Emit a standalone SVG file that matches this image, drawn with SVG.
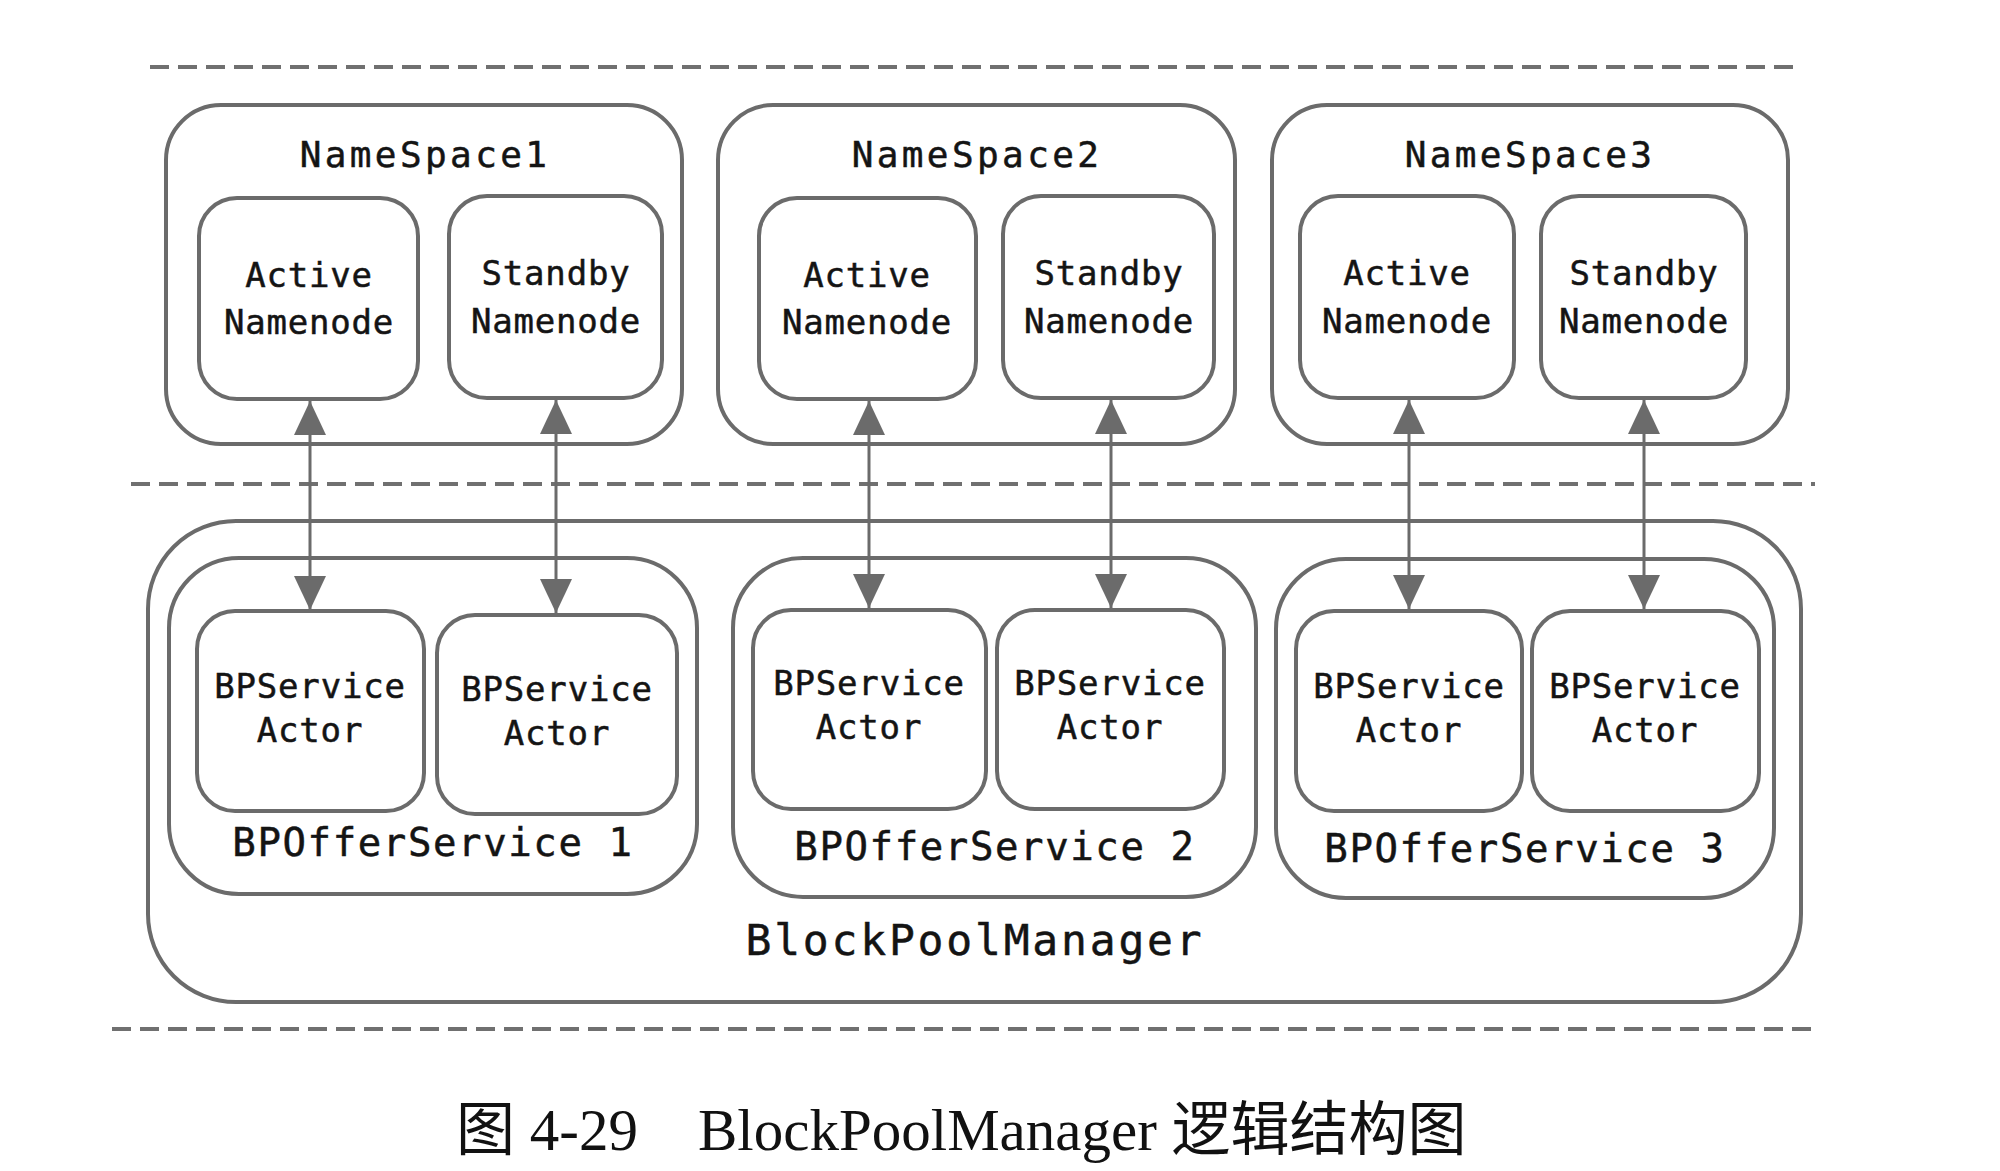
<svg xmlns="http://www.w3.org/2000/svg" width="2000" height="1171" viewBox="0 0 2000 1171">
<style>
.bg{fill:#ffffff}
.dash{stroke:#707070;stroke-width:4;stroke-dasharray:19 9;fill:none}
.box{fill:none;stroke:#6b6b6b;stroke-width:4}
.conn{stroke:#6b6b6b;stroke-width:3;fill:none}
.t{font-family:"DejaVu Sans Mono","Liberation Mono",monospace;fill:#141414;stroke:#141414;stroke-width:0.5;text-anchor:middle}
.node{font-size:34px;letter-spacing:0.8px}
.title{font-size:36px;letter-spacing:3.4px}
.bpo{font-size:39px;letter-spacing:1.6px}
.bpm{font-size:43px;letter-spacing:2.8px}
.cap{font-family:"Liberation Serif","Noto Sans CJK SC",serif;font-size:59px;fill:#111}
</style>
<defs>
<marker id="ah" viewBox="0 0 34 32" refX="34" refY="16" markerWidth="34" markerHeight="32" markerUnits="userSpaceOnUse" orient="auto-start-reverse">
<path d="M0,0 L34,16 L0,32 Z" fill="#6b6b6b"/>
</marker>
</defs>
<rect class="bg" x="0" y="0" width="2000" height="1171"/>

<g id="separators">
<line class="dash" x1="150" y1="67" x2="1798" y2="67"/>
<line class="dash" x1="131" y1="484" x2="1815" y2="484"/>
<line class="dash" x1="112" y1="1029" x2="1818" y2="1029"/>
</g>

<g id="namespace1">
<rect class="box" x="166" y="105" width="516" height="339" rx="55"/>
<text class="t title" x="425" y="167">NameSpace1</text>
</g>
<g id="ns1-active">
<rect class="box" x="199" y="198" width="219" height="201" rx="38"/>
<text class="t node" x="309" y="287">Active</text>
<text class="t node" x="309" y="334">Namenode</text>
</g>
<g id="ns1-standby">
<rect class="box" x="449" y="196" width="213" height="202" rx="38"/>
<text class="t node" x="556" y="285">Standby</text>
<text class="t node" x="556" y="333">Namenode</text>
</g>

<g id="namespace2">
<rect class="box" x="718" y="105" width="517" height="339" rx="55"/>
<text class="t title" x="977" y="167">NameSpace2</text>
</g>
<g id="ns2-active">
<rect class="box" x="759" y="198" width="217" height="201" rx="38"/>
<text class="t node" x="867" y="287">Active</text>
<text class="t node" x="867" y="334">Namenode</text>
</g>
<g id="ns2-standby">
<rect class="box" x="1003" y="196" width="211" height="202" rx="38"/>
<text class="t node" x="1109" y="285">Standby</text>
<text class="t node" x="1109" y="333">Namenode</text>
</g>

<g id="namespace3">
<rect class="box" x="1272" y="105" width="516" height="339" rx="55"/>
<text class="t title" x="1530" y="167">NameSpace3</text>
</g>
<g id="ns3-active">
<rect class="box" x="1300" y="196" width="214" height="202" rx="38"/>
<text class="t node" x="1407" y="285">Active</text>
<text class="t node" x="1407" y="333">Namenode</text>
</g>
<g id="ns3-standby">
<rect class="box" x="1541" y="196" width="205" height="202" rx="38"/>
<text class="t node" x="1644" y="285">Standby</text>
<text class="t node" x="1644" y="333">Namenode</text>
</g>

<g id="blockpoolmanager">
<rect class="box" x="148" y="521" width="1653" height="481" rx="88"/>
<text class="t bpm" x="975" y="955">BlockPoolManager</text>
</g>

<g id="bpofferservice1">
<rect class="box" x="169" y="558" width="528" height="336" rx="70"/>
<text class="t bpo" x="433" y="856">BPOfferService 1</text>
</g>
<g id="bpo1-actor1">
<rect class="box" x="197" y="611" width="227" height="200" rx="38"/>
<text class="t node" x="310" y="698">BPService</text>
<text class="t node" x="310" y="742">Actor</text>
</g>
<g id="bpo1-actor2">
<rect class="box" x="437" y="615" width="240" height="199" rx="38"/>
<text class="t node" x="557" y="701">BPService</text>
<text class="t node" x="557" y="745">Actor</text>
</g>

<g id="bpofferservice2">
<rect class="box" x="733" y="558" width="523" height="339" rx="70"/>
<text class="t bpo" x="995" y="860">BPOfferService 2</text>
</g>
<g id="bpo2-actor1">
<rect class="box" x="753" y="610" width="233" height="199" rx="38"/>
<text class="t node" x="869" y="695">BPService</text>
<text class="t node" x="869" y="739">Actor</text>
</g>
<g id="bpo2-actor2">
<rect class="box" x="997" y="610" width="227" height="199" rx="38"/>
<text class="t node" x="1110" y="695">BPService</text>
<text class="t node" x="1110" y="739">Actor</text>
</g>

<g id="bpofferservice3">
<rect class="box" x="1276" y="559" width="498" height="339" rx="70"/>
<text class="t bpo" x="1525" y="862">BPOfferService 3</text>
</g>
<g id="bpo3-actor1">
<rect class="box" x="1296" y="611" width="226" height="200" rx="38"/>
<text class="t node" x="1409" y="698">BPService</text>
<text class="t node" x="1409" y="742">Actor</text>
</g>
<g id="bpo3-actor2">
<rect class="box" x="1532" y="611" width="227" height="200" rx="38"/>
<text class="t node" x="1645" y="698">BPService</text>
<text class="t node" x="1645" y="742">Actor</text>
</g>

<g id="connectors">
<line class="conn" x1="310" y1="401" x2="310" y2="610" marker-start="url(#ah)" marker-end="url(#ah)"/>
<line class="conn" x1="556" y1="400" x2="556" y2="613" marker-start="url(#ah)" marker-end="url(#ah)"/>
<line class="conn" x1="869" y1="401" x2="869" y2="608" marker-start="url(#ah)" marker-end="url(#ah)"/>
<line class="conn" x1="1111" y1="400" x2="1111" y2="608" marker-start="url(#ah)" marker-end="url(#ah)"/>
<line class="conn" x1="1409" y1="400" x2="1409" y2="609" marker-start="url(#ah)" marker-end="url(#ah)"/>
<line class="conn" x1="1644" y1="400" x2="1644" y2="609" marker-start="url(#ah)" marker-end="url(#ah)"/>
</g>

<g id="caption">
<text class="cap" x="456" y="1150">图 4-29</text>
<text class="cap" x="698" y="1150">BlockPoolManager 逻辑结构图</text>
</g>
</svg>
